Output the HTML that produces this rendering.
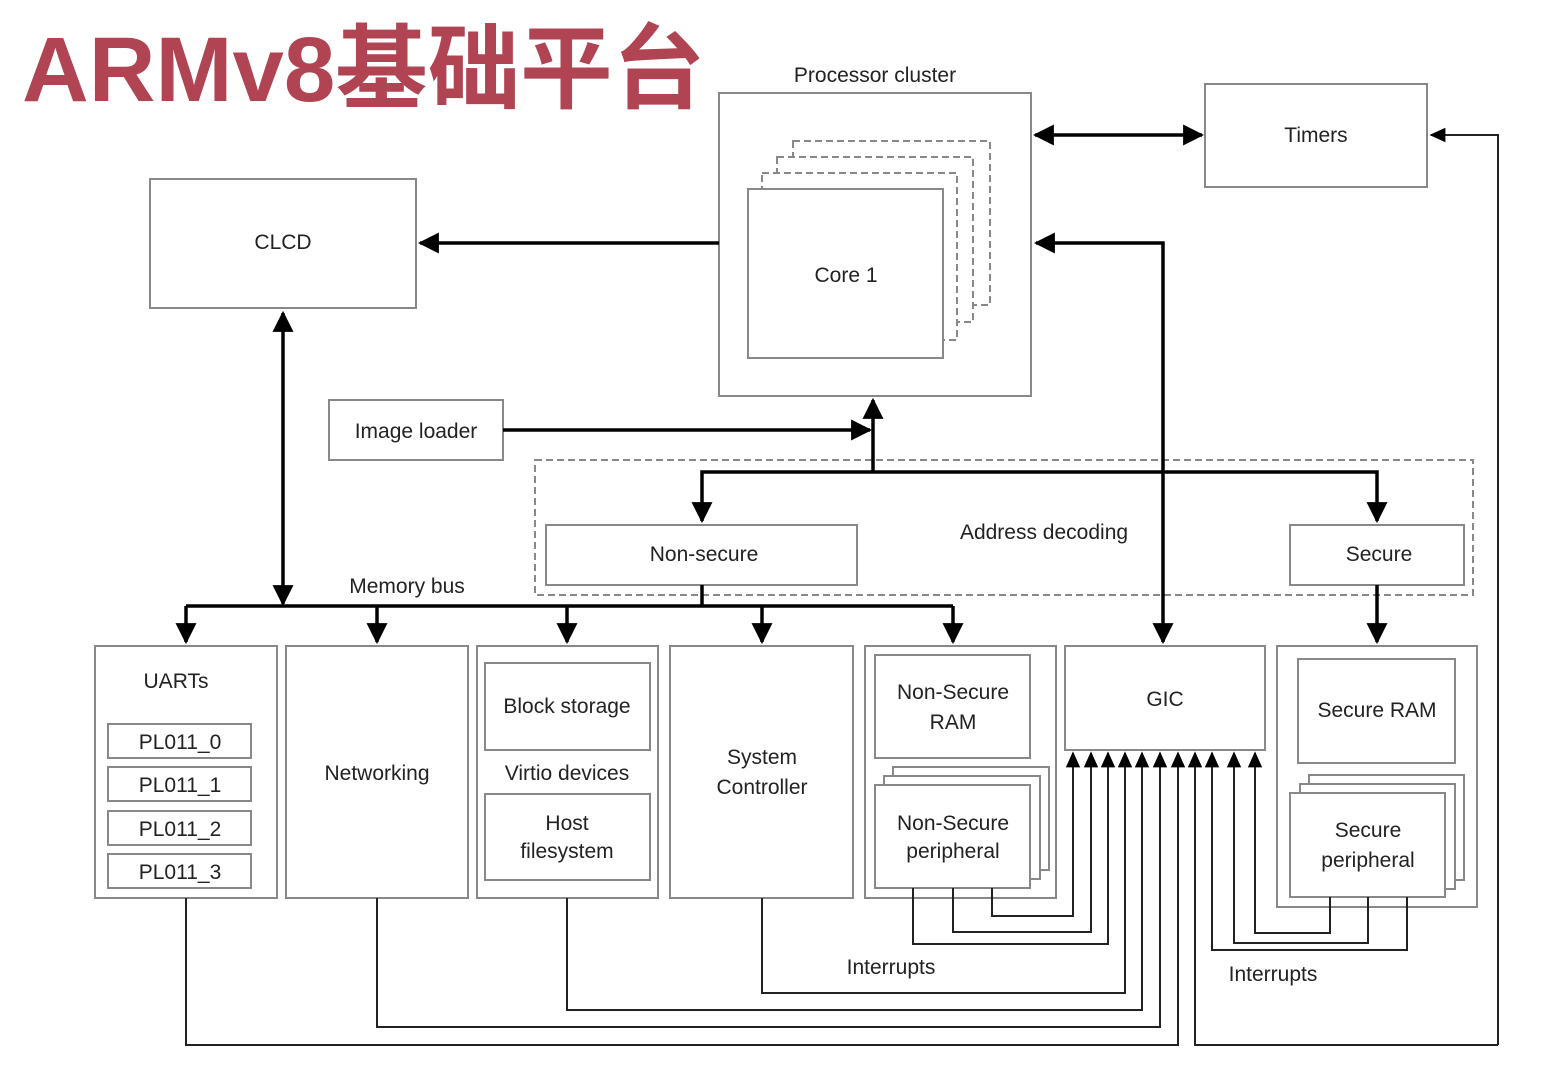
<!DOCTYPE html>
<html><head><meta charset="utf-8"><style>
html,body{margin:0;padding:0;background:#fff;}
svg{display:block;}
text{font-family:"Liberation Sans",sans-serif;fill:#222;font-size:21px;}
</style></head><body>
<svg width="1554" height="1066" viewBox="0 0 1554 1066" xmlns="http://www.w3.org/2000/svg">
<defs>
<marker id="a" viewBox="0 0 10 10" refX="9" refY="5" markerWidth="6" markerHeight="6" orient="auto-start-reverse"><path d="M0,0 L10,5 L0,10 z" fill="#000"/></marker>
<marker id="s" viewBox="0 0 10 10" refX="9" refY="5" markerWidth="8" markerHeight="8" orient="auto-start-reverse"><path d="M0,0.5 L10,5 L0,9.5 z" fill="#000"/></marker>
</defs>
<text x="22" y="101" textLength="683" lengthAdjust="spacingAndGlyphs" style="font-family:'Liberation Sans','Noto Sans CJK SC',sans-serif;font-size:92px;font-weight:bold;fill:#b04453">ARMv8基础平台</text>

<g fill="#fff" stroke="#888" stroke-width="2">
<rect x="719" y="93" width="312" height="303"/>
<rect x="793" y="141" width="197" height="164" stroke-dasharray="7,4"/>
<rect x="777" y="157" width="196" height="165" stroke-dasharray="7,4"/>
<rect x="762" y="173" width="195" height="167" stroke-dasharray="7,4"/>
<rect x="748" y="189" width="195" height="169"/>
<rect x="1205" y="84" width="222" height="103"/>
<rect x="150" y="179" width="266" height="129"/>
<rect x="329" y="400" width="174" height="60"/>
<rect x="535" y="460" width="938" height="135" fill="none" stroke-dasharray="7,4"/>
<rect x="546" y="525" width="311" height="60"/>
<rect x="1290" y="525" width="174" height="60"/>
<rect x="95" y="646" width="182" height="252"/>
<rect x="286" y="646" width="182" height="252"/>
<rect x="477" y="646" width="181" height="252"/>
<rect x="670" y="646" width="183" height="252"/>
<rect x="865" y="646" width="191" height="252"/>
<rect x="1065" y="646" width="200" height="104"/>
<rect x="1277" y="646" width="200" height="261"/>
<rect x="108" y="724" width="143" height="34"/>
<rect x="108" y="767" width="143" height="34"/>
<rect x="108" y="811" width="143" height="34"/>
<rect x="108" y="854" width="143" height="34"/>
<rect x="485" y="663" width="165" height="87"/>
<rect x="485" y="794" width="165" height="86"/>
<rect x="875" y="655" width="155" height="103"/>
<rect x="893" y="767" width="156" height="103"/>
<rect x="884" y="776" width="156" height="103"/>
<rect x="875" y="785" width="155" height="103"/>
<rect x="1298" y="659" width="157" height="104"/>
<rect x="1309" y="775" width="155" height="105"/>
<rect x="1300" y="784" width="155" height="105"/>
<rect x="1290" y="793" width="155" height="104"/>
</g>

<g stroke="#000" stroke-width="3.5" fill="none">
<line x1="719" y1="243" x2="420" y2="243" marker-end="url(#a)"/>
<line x1="1035" y1="135" x2="1202" y2="135" marker-start="url(#a)" marker-end="url(#a)"/>
<polyline points="1036,243 1163,243 1163,642" marker-start="url(#a)" marker-end="url(#a)"/>
<line x1="283" y1="313" x2="283" y2="604" marker-start="url(#a)" marker-end="url(#a)"/>
<line x1="503" y1="430" x2="870" y2="430" marker-end="url(#a)"/>
<line x1="873" y1="472" x2="873" y2="400" marker-end="url(#a)"/>
<polyline points="702,521 702,472 1377,472 1377,521" marker-start="url(#a)" marker-end="url(#a)"/>
<line x1="702" y1="585" x2="702" y2="606"/>
<line x1="186" y1="606" x2="953" y2="606"/>
<line x1="186" y1="606" x2="186" y2="642" marker-end="url(#a)"/>
<line x1="377" y1="606" x2="377" y2="642" marker-end="url(#a)"/>
<line x1="567" y1="606" x2="567" y2="642" marker-end="url(#a)"/>
<line x1="762" y1="606" x2="762" y2="642" marker-end="url(#a)"/>
<line x1="953" y1="606" x2="953" y2="642" marker-end="url(#a)"/>
<line x1="1377" y1="585" x2="1377" y2="642" marker-end="url(#a)"/>
</g>

<g stroke="#222" stroke-width="2" fill="none">
<polyline points="992,888 992,916 1073,916 1073,753" marker-end="url(#s)"/>
<polyline points="953,888 953,932 1091,932 1091,753" marker-end="url(#s)"/>
<polyline points="913,888 913,944 1108,944 1108,753" marker-end="url(#s)"/>
<polyline points="762,898 762,993 1125,993 1125,753" marker-end="url(#s)"/>
<polyline points="567,898 567,1010 1142,1010 1142,753" marker-end="url(#s)"/>
<polyline points="377,898 377,1027 1160,1027 1160,753" marker-end="url(#s)"/>
<polyline points="186,898 186,1045 1178,1045 1178,753" marker-end="url(#s)"/>
<polyline points="1498,1045 1195,1045 1195,753" marker-end="url(#s)"/>
<polyline points="1407,897 1407,950 1212,950 1212,753" marker-end="url(#s)"/>
<polyline points="1368,897 1368,943 1234,943 1234,753" marker-end="url(#s)"/>
<polyline points="1330,897 1330,933 1255,933 1255,753" marker-end="url(#s)"/>
<polyline points="1498,1045 1498,135 1431,135" marker-end="url(#s)"/>
</g>

<g text-anchor="middle">
<text x="875" y="82">Processor cluster</text>
<text x="846" y="282">Core 1</text>
<text x="1316" y="142">Timers</text>
<text x="283" y="249">CLCD</text>
<text x="416" y="438">Image loader</text>
<text x="1044" y="539">Address decoding</text>
<text x="704" y="561">Non-secure</text>
<text x="1379" y="561">Secure</text>
<text x="407" y="593">Memory bus</text>
<text x="176" y="688">UARTs</text>
<text x="180" y="749">PL011_0</text>
<text x="180" y="792">PL011_1</text>
<text x="180" y="836">PL011_2</text>
<text x="180" y="879">PL011_3</text>
<text x="377" y="780">Networking</text>
<text x="567" y="713">Block storage</text>
<text x="567" y="780">Virtio devices</text>
<text x="567" y="830">Host</text>
<text x="567" y="858">filesystem</text>
<text x="762" y="764">System</text>
<text x="762" y="794">Controller</text>
<text x="953" y="699">Non-Secure</text>
<text x="953" y="729">RAM</text>
<text x="953" y="830">Non-Secure</text>
<text x="953" y="858">peripheral</text>
<text x="1165" y="706">GIC</text>
<text x="1377" y="717">Secure RAM</text>
<text x="1368" y="837">Secure</text>
<text x="1368" y="867">peripheral</text>
<text x="891" y="974">Interrupts</text>
<text x="1273" y="981">Interrupts</text>
</g>
</svg>
</body></html>
